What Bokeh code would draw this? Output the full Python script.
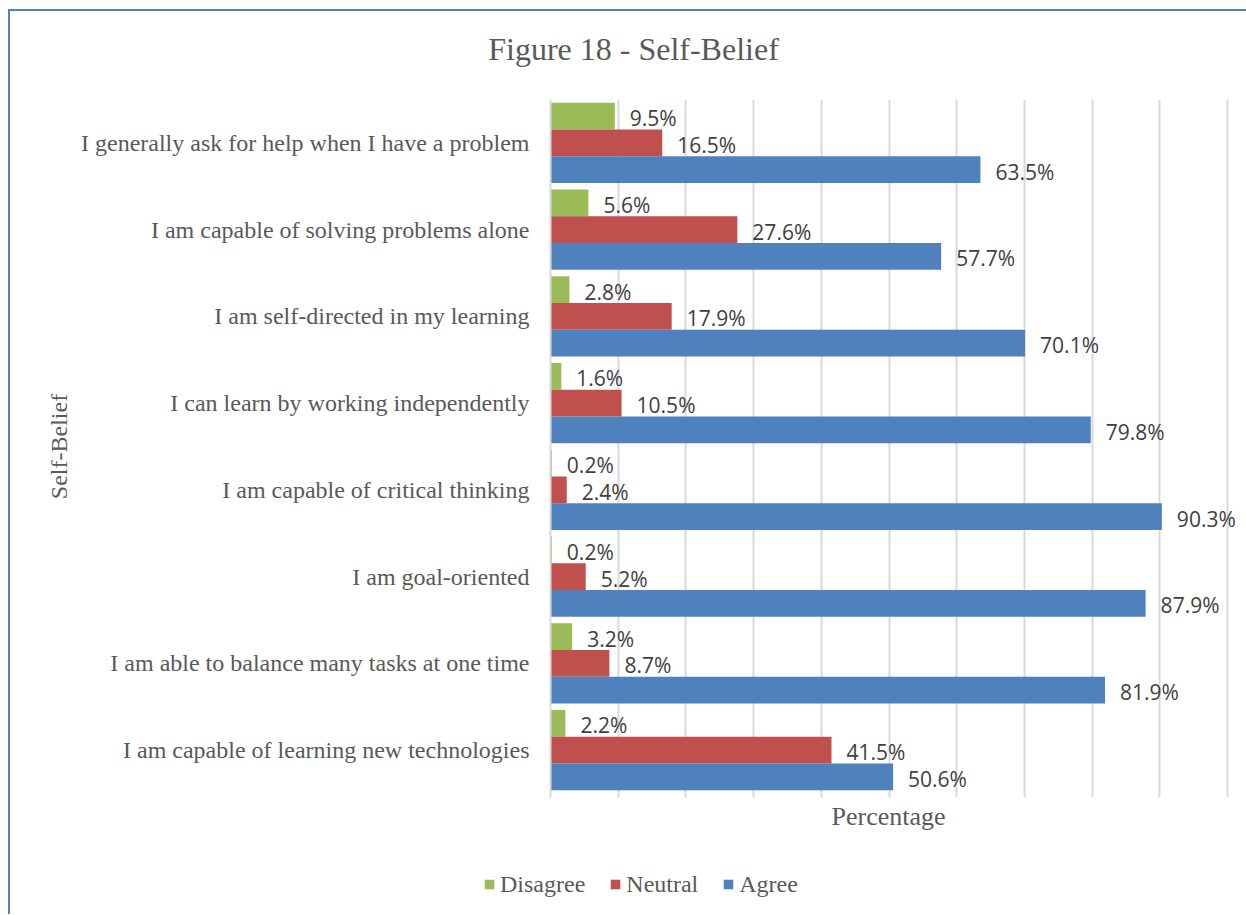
from bokeh.plotting import figure
from bokeh.layouts import column
from bokeh.models import (ColumnDataSource, Legend, LegendItem, FixedTicker,
                          Range1d, FactorRange, Label, Title, CustomJSTickFormatter)
from bokeh.transform import dodge
from bokeh.embed import file_html
from bokeh.resources import INLINE
from bokeh.core.properties import value

categories = [
    "I generally ask for help when I have a problem",
    "I am capable of solving problems alone",
    "I am self-directed in my learning",
    "I can learn by working independently",
    "I am capable of critical thinking",
    "I am goal-oriented",
    "I am able to balance many tasks at one time",
    "I am capable of learning new technologies",
]
disagree = [9.5, 5.6, 2.8, 1.6, 0.2, 0.2, 3.2, 2.2]
neutral = [16.5, 27.6, 17.9, 10.5, 2.4, 5.2, 8.7, 41.5]
agree = [63.5, 57.7, 70.1, 79.8, 90.3, 87.9, 81.9, 50.6]
series_names = ["Disagree", "Neutral", "Agree"]
series_values = [disagree, neutral, agree]
x_ticks = [0, 10, 20, 30, 40, 50, 60, 70, 80, 90, 100]
colors = ["#9bbb59", "#c0504d", "#4f81bd"]
title_text = "Figure 18 - Self-Belief"
x_title = "Percentage"
y_title = "Self-Belief"

SERIF = "Liberation Serif"
SANS = "Open Sans"
TEXT = "#595959"
W = 1236


def no_align(f):
    try:
        f.frame_align = False
    except AttributeError:
        pass


def blank_fig(h):
    f = figure(width=W, height=h, x_range=Range1d(0, W), y_range=Range1d(0, h),
               output_backend="svg", toolbar_location=None,
               x_axis_location=None, y_axis_location=None,
               min_border=0)
    f.outline_line_color = None
    f.xgrid.visible = False
    f.ygrid.visible = False
    f.background_fill_color = "white"
    f.border_fill_color = "white"
    no_align(f)
    return f


# ---- header with title ----
head = blank_fig(74)
head.add_layout(Label(x=623, y=37, text=title_text, text_align="center",
                      text_baseline="middle", text_font=SERIF,
                      text_font_size="32px", text_color=TEXT))

# ---- main chart ----
p = figure(width=W, height=765,
           y_range=FactorRange(*categories[::-1]),
           x_range=Range1d(0, 102.8),
           output_backend="svg", toolbar_location=None,
           min_border_left=540, min_border_right=0,
           min_border_top=14, min_border_bottom=57)
p.outline_line_color = None
p.background_fill_color = "white"
p.border_fill_color = "white"
no_align(p)

bar_h = 0.308
offsets = [bar_h, 0.0, -bar_h]
for name, vals, col, off in zip(series_names, series_values, colors, offsets):
    src = ColumnDataSource(dict(cat=categories, val=vals,
                                lbl=[f"{v:.1f}%" for v in vals]))
    p.hbar(y=dodge("cat", off, range=p.y_range), left=0, right="val",
           height=bar_h, fill_color=col, line_color=None, source=src)
    p.text(x="val", y=dodge("cat", off, range=p.y_range), text="lbl",
           x_offset=15, y_offset=2, text_baseline="middle", text_align="left",
           text_font=value(SANS), text_font_size="21px", text_color="#404040",
           source=src)

xa = p.xaxis[0]
xa.ticker = FixedTicker(ticks=x_ticks)
xa.formatter = CustomJSTickFormatter(code="return ''")
xa.major_label_standoff = 0
xa.axis_line_color = None
xa.major_tick_line_color = "#d9d9d9"
xa.major_tick_line_width = 2
xa.major_tick_out = 4
xa.major_tick_in = 0
xa.minor_tick_line_color = None

p.add_layout(Title(text=x_title, align="left", offset=281, standoff=4,
                   text_font=SERIF, text_font_size="26px", text_color=TEXT,
                   text_font_style="normal"), "below")

ya = p.yaxis[0]
ya.major_tick_line_color = None
ya.minor_tick_line_color = None
ya.axis_line_color = "#d9d9d9"
ya.axis_line_width = 2
ya.major_label_text_font = SERIF
ya.major_label_text_font_size = "24px"
ya.major_label_text_color = TEXT
ya.major_label_standoff = 15
ya.axis_label = y_title
ya.axis_label_text_font = SERIF
ya.axis_label_text_font_size = "24px"
ya.axis_label_text_font_style = "normal"
ya.axis_label_text_color = TEXT
ya.axis_label_standoff = 6

p.xgrid.grid_line_color = "#d9d9d9"
p.xgrid.grid_line_width = 2
p.ygrid.grid_line_color = None

# ---- legend strip ----
foot = blank_fig(64)
items = []
for name, col in zip(series_names, colors):
    proxy = foot.hbar(y=[0], right=[0], left=[0], height=0, fill_color=col,
                      line_color=None)
    items.append(LegendItem(label=name, renderers=[proxy]))
legend = Legend(items=items, orientation="horizontal", location=(473, 16),
                border_line_color=None, background_fill_alpha=0,
                padding=0, margin=0, spacing=24, label_standoff=5,
                glyph_width=12, glyph_height=12, label_height=28,
                label_text_font=SERIF, label_text_font_size="24px",
                label_text_color=TEXT)
foot.add_layout(legend, "center")

layout = column(head, p, foot, spacing=0)
layout.styles = {"border-left": "2px solid #4f81bd", "border-top": "2px solid #4f81bd",
                 "margin-left": "8px", "margin-top": "9px"}

open("out.html", "w").write(file_html(layout, INLINE))
